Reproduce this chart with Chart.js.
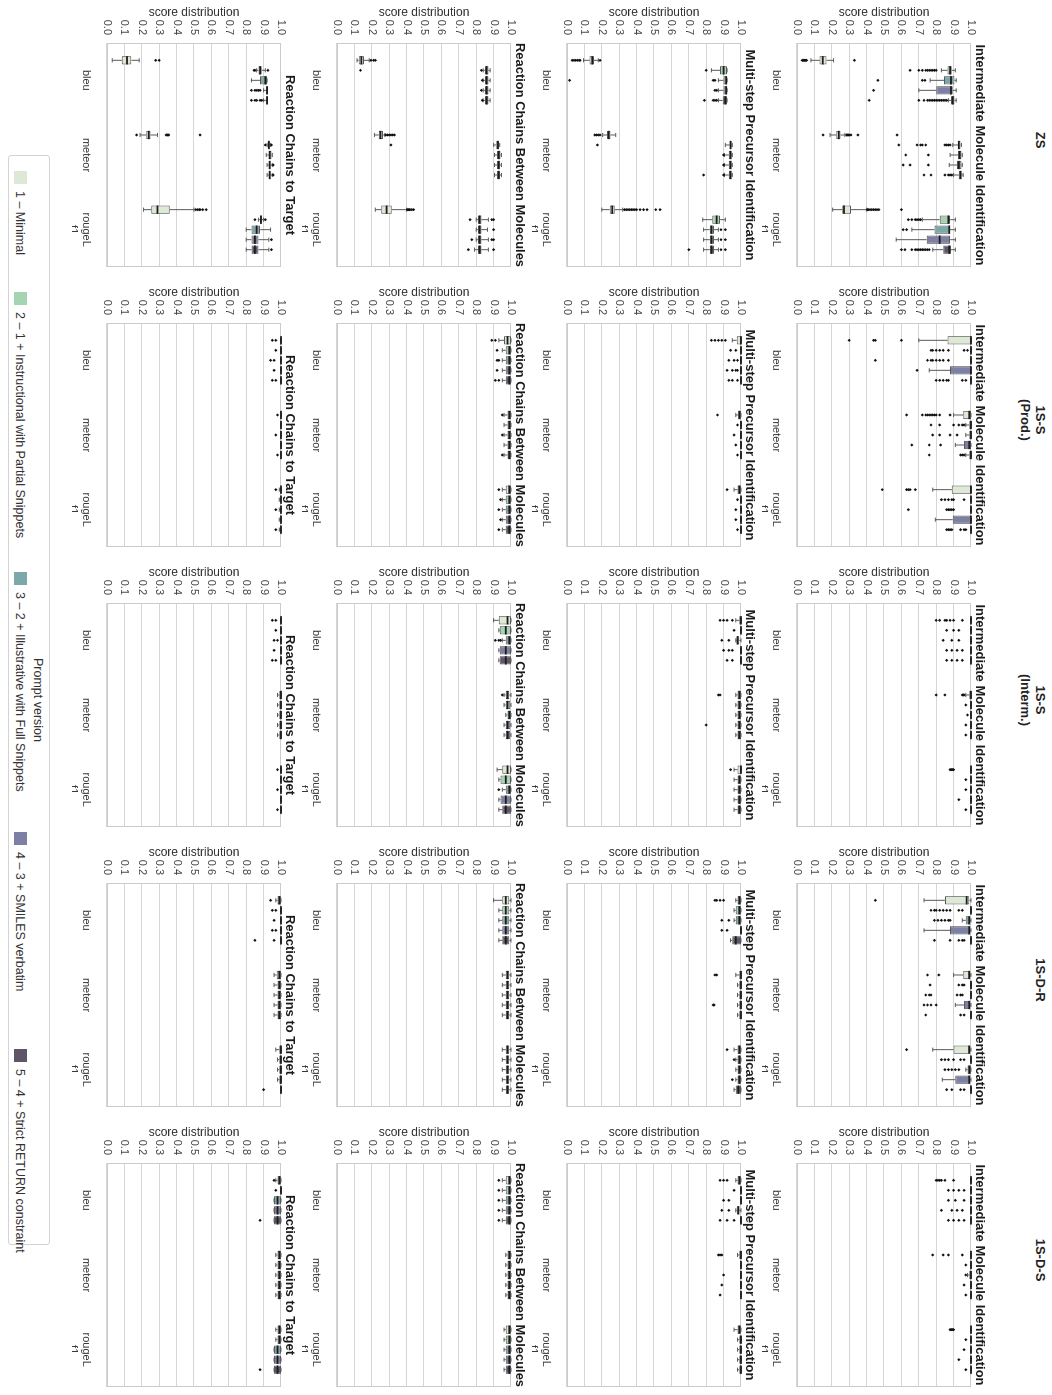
<!DOCTYPE html>
<html>
<head>
<meta charset="utf-8">
<script src="https://cdn.jsdelivr.net/npm/chart.js@4.4.1/dist/chart.umd.min.js"></script>
<style>
  html, body { margin: 0; padding: 0; background: #fff; overflow: hidden; width: 1052px; height: 1395px; }
  #fig { position: absolute; left: 0; top: 0; width: 1395px; height: 1052px;
         transform-origin: 0 0; transform: translate(1052px, 0) rotate(90deg);
         font-family: 'Liberation Sans', Arial, sans-serif; color: #222; }
  #fig canvas { position: absolute; }
  .hdr { position: absolute; top: 4px; width: 280px; text-align: center; font-weight: bold;
         font-size: 13px; line-height: 15px; color: #222; }
  #legend { position: absolute; left: 155px; top: 1002px; width: 1090px; height: 42px;
            border: 1px solid #d3d3d3; border-radius: 3px; box-sizing: border-box; }
  #legend .ttl { position: absolute; top: 4px; left: 0; width: 100%; text-align: center; font-size: 12.5px; color: #333; }
  #legend .sw { position: absolute; top: 22px; width: 13px; height: 13px; }
  #legend .lb { position: absolute; top: 22px; font-size: 12.5px; line-height: 14px; color: #333; white-space: nowrap; }
</style>
</head>
<body>
<div id="fig"></div>
<script>
const settings = [['ZS'], ['1S-S', '(Prod.)'], ['1S-S', '(Interm.)'], ['1S-D-R'], ['1S-D-S']];
const tasks = ['Intermediate Molecule Identification', 'Multi-step Precursor Identification',
               'Reaction Chains Between Molecules', 'Reaction Chains to Target'];
const metrics = ['bleu', 'meteor', ['rougeL', 'f1']];
const versions = ['1 – Minimal', '2 – 1 + Instructional with Partial Snippets',
                  '3 – 2 + Illustrative with Full Snippets', '4 – 3 + SMILES verbatim',
                  '5 – 4 + Strict RETURN constraint'];
const versionColors = ['#dde9d5', '#a4d4b1', '#7ca8aa', '#7d80a4', '#605468'];
const legendX = [170, 291, 571, 831, 1048];

// every box: [low whisker, q1, median, q3, high whisker, [outliers]]
// rows = bleu, meteor, rougeL f1 ; columns = prompt version 1..5
const zsImi = [
  [[0.08, 0.13, 0.148, 0.17, 0.21, [0.03, 0.035, 0.04, 0.045, 0.05, 0.055, 0.33]],
   [0.83, 0.865, 0.88, 0.89, 0.91, [0.65, 0.70, 0.72, 0.74, 0.75, 0.76, 0.77, 0.78, 0.79, 0.80]],
   [0.765, 0.845, 0.885, 0.905, 0.915, [0.72, 0.735, 0.465]],
   [0.70, 0.80, 0.885, 0.895, 0.915, [0.44]],
   [0.87, 0.885, 0.895, 0.905, 0.915, [0.70, 0.73, 0.75, 0.76, 0.77, 0.78, 0.79, 0.80, 0.81, 0.82, 0.83, 0.84, 0.85, 0.86, 0.415]]],
  [[0.19, 0.225, 0.24, 0.25, 0.275, [0.15, 0.285, 0.29, 0.295, 0.30, 0.31, 0.35, 0.575]],
   [0.895, 0.925, 0.93, 0.94, 0.945, [0.585, 0.69, 0.71, 0.72, 0.74, 0.85, 0.86, 0.87, 0.88]],
   [0.88, 0.925, 0.935, 0.945, 0.95, [0.625, 0.755]],
   [0.875, 0.92, 0.93, 0.945, 0.95, [0.61, 0.65, 0.755]],
   [0.90, 0.93, 0.94, 0.945, 0.955, [0.73, 0.77, 0.85, 0.87, 0.88, 0.89]]],
  [[0.205, 0.26, 0.27, 0.31, 0.40, [0.405, 0.41, 0.42, 0.43, 0.44, 0.45, 0.46, 0.47, 0.60]],
   [0.72, 0.82, 0.87, 0.88, 0.91, [0.64, 0.66, 0.68, 0.69, 0.70, 0.71]],
   [0.66, 0.79, 0.875, 0.88, 0.91, [0.61, 0.63]],
   [0.57, 0.745, 0.82, 0.88, 0.91, []],
   [0.78, 0.84, 0.875, 0.885, 0.91, [0.60, 0.62, 0.66, 0.68, 0.69, 0.70, 0.71, 0.72, 0.73, 0.74, 0.75, 0.76]]]
];
const zsMpi = [
  [[0.095, 0.13, 0.145, 0.155, 0.18, [0.03, 0.04, 0.05, 0.06, 0.07, 0.075, 0.19]],
   [0.83, 0.88, 0.90, 0.92, 0.92, [0.80]],
   [0.87, 0.90, 0.915, 0.92, 0.92, [0.84, 0.85, 0.015]],
   [0.87, 0.90, 0.915, 0.92, 0.92, [0.85, 0.86]],
   [0.87, 0.895, 0.91, 0.92, 0.92, [0.79, 0.84, 0.85, 0.86]]],
  [[0.205, 0.23, 0.24, 0.25, 0.28, [0.16, 0.17, 0.18, 0.19]],
   [0.91, 0.935, 0.94, 0.945, 0.95, [0.175]],
   [0.905, 0.93, 0.94, 0.945, 0.95, [0.90]],
   [0.905, 0.93, 0.94, 0.945, 0.95, [0.90]],
   [0.905, 0.93, 0.94, 0.945, 0.95, [0.90, 0.785]]],
  [[0.20, 0.245, 0.26, 0.275, 0.32, [0.33, 0.34, 0.35, 0.36, 0.37, 0.38, 0.39, 0.40, 0.42, 0.44, 0.46, 0.51, 0.535]],
   [0.78, 0.835, 0.86, 0.88, 0.91, []],
   [0.785, 0.82, 0.83, 0.845, 0.87, [0.885, 0.91]],
   [0.785, 0.82, 0.83, 0.845, 0.87, [0.885, 0.91]],
   [0.785, 0.82, 0.83, 0.845, 0.87, [0.70, 0.885, 0.91]]]
];
const zsRcbm = [
  [[0.115, 0.125, 0.14, 0.155, 0.185, [0.195, 0.21, 0.22]],
   [0.84, 0.85, 0.86, 0.87, 0.88, [0.135, 0.83]],
   [0.84, 0.85, 0.86, 0.87, 0.88, [0.835]],
   [0.84, 0.85, 0.86, 0.87, 0.88, [0.83]],
   [0.84, 0.85, 0.86, 0.87, 0.88, [0.835]]],
  [[0.215, 0.24, 0.25, 0.265, 0.275, [0.28, 0.29, 0.30, 0.31, 0.32, 0.33]],
   [0.90, 0.915, 0.925, 0.93, 0.935, [0.31]],
   [0.905, 0.92, 0.93, 0.94, 0.945, []],
   [0.905, 0.92, 0.93, 0.935, 0.945, []],
   [0.905, 0.92, 0.93, 0.935, 0.945, []]],
  [[0.22, 0.255, 0.285, 0.315, 0.40, [0.405, 0.41, 0.415, 0.42, 0.43, 0.44]],
   [0.80, 0.81, 0.82, 0.83, 0.87, [0.765, 0.89, 0.90]],
   [0.80, 0.81, 0.82, 0.83, 0.865, [0.90]],
   [0.80, 0.81, 0.82, 0.83, 0.87, [0.775, 0.89, 0.90]],
   [0.79, 0.81, 0.82, 0.83, 0.87, [0.755, 0.90]]]
];
const zsRct = [
  [[0.03, 0.085, 0.115, 0.14, 0.185, [0.28, 0.30]],
   [0.86, 0.87, 0.88, 0.89, 0.91, [0.845, 0.85, 0.925]],
   [0.83, 0.88, 0.91, 0.92, 0.92, []],
   [0.90, 0.915, 0.92, 0.92, 0.92, [0.83, 0.85, 0.86, 0.87, 0.88]],
   [0.90, 0.915, 0.92, 0.92, 0.92, [0.83, 0.85, 0.86, 0.88, 0.89]]],
  [[0.19, 0.225, 0.24, 0.25, 0.29, [0.17, 0.34, 0.345, 0.35, 0.355, 0.535]],
   [0.92, 0.925, 0.93, 0.935, 0.94, [0.91, 0.945]],
   [0.915, 0.93, 0.935, 0.945, 0.95, []],
   [0.92, 0.93, 0.935, 0.94, 0.95, [0.955]],
   [0.92, 0.93, 0.935, 0.94, 0.95, [0.955]]],
  [[0.21, 0.255, 0.29, 0.36, 0.50, [0.51, 0.52, 0.53, 0.535, 0.55, 0.57]],
   [0.87, 0.88, 0.885, 0.89, 0.90, [0.85, 0.91]],
   [0.80, 0.83, 0.86, 0.88, 0.94, []],
   [0.80, 0.83, 0.85, 0.87, 0.93, [0.945]],
   [0.80, 0.83, 0.85, 0.87, 0.93, [0.945]]]
];
const prodImi = [
  [[0.70, 0.865, 1, 1, 1, [0.30, 0.44, 0.45, 0.60]],
   [1, 1, 1, 1, 1, [0.77, 0.78, 0.80, 0.82, 0.84, 0.87, 0.96, 0.98]],
   [1, 1, 1, 1, 1, [0.45, 0.75, 0.77, 0.78, 0.80, 0.82, 0.84, 0.87]],
   [0.76, 0.88, 1, 1, 1, [0.69]],
   [1, 1, 1, 1, 1, [0.80, 0.82, 0.84, 0.86, 0.87, 0.95, 0.97]]],
  [[0.90, 0.955, 0.99, 1, 1, [0.63, 0.72, 0.74, 0.75, 0.76, 0.77, 0.78, 0.79, 0.80, 0.82, 0.88]],
   [0.97, 0.99, 1, 1, 1, [0.77, 0.82, 0.90, 0.93, 0.95, 0.96]],
   [0.97, 0.99, 1, 1, 1, [0.78, 0.82, 0.88, 0.92]],
   [0.91, 0.96, 0.99, 1, 1, [0.66, 0.76, 0.825]],
   [0.97, 0.99, 1, 1, 1, [0.76, 0.94, 0.95, 0.96]]],
  [[0.78, 0.89, 1, 1, 1, [0.49, 0.63, 0.64, 0.65, 0.68]],
   [1, 1, 1, 1, 1, [0.83, 0.85, 0.87, 0.89, 0.90, 0.96]],
   [1, 1, 1, 1, 1, [0.64, 0.86, 0.87, 0.88, 0.89, 0.90]],
   [0.795, 0.895, 1, 1, 1, []],
   [1, 1, 1, 1, 1, [0.86, 0.87, 0.88, 0.89, 0.94, 0.96, 0.97]]]
];
const prodMpi = [
  [[0.95, 0.975, 1, 1, 1, [0.83, 0.85, 0.87, 0.89, 0.91]],
   [1, 1, 1, 1, 1, [0.94, 0.97]],
   [1, 1, 1, 1, 1, [0.93, 0.96, 0.98]],
   [1, 1, 1, 1, 1, [0.92, 0.95, 0.97, 0.98]],
   [1, 1, 1, 1, 1, [0.93, 0.95, 0.98]]],
  [[0.97, 0.985, 0.99, 1, 1, [0.865]],
   [1, 1, 1, 1, 1, [0.98]],
   [1, 1, 1, 1, 1, [0.96]],
   [1, 1, 1, 1, 1, [0.97]],
   [1, 1, 1, 1, 1, [0.98]]],
  [[0.96, 0.98, 0.99, 1, 1, [0.92]],
   [1, 1, 1, 1, 1, [0.98]],
   [1, 1, 1, 1, 1, [0.97]],
   [1, 1, 1, 1, 1, [0.97]],
   [1, 1, 1, 1, 1, [0.98]]]
];
const prodRcbm = [
  [[0.93, 0.96, 0.98, 1, 1, [0.89, 0.91]],
   [0.95, 0.97, 0.99, 1, 1, [0.92]],
   [0.95, 0.97, 0.99, 1, 1, [0.92, 0.93]],
   [0.95, 0.97, 0.99, 1, 1, [0.92]],
   [0.95, 0.97, 0.99, 1, 1, [0.91, 0.93]]],
  [[0.96, 0.98, 0.99, 1, 1, [0.95]],
   [0.96, 0.98, 0.99, 1, 1, []],
   [0.96, 0.98, 0.99, 1, 1, [0.95]],
   [0.96, 0.98, 0.99, 1, 1, []],
   [0.96, 0.98, 0.99, 1, 1, [0.95]]],
  [[0.95, 0.97, 0.99, 1, 1, [0.93]],
   [0.95, 0.97, 0.99, 1, 1, [0.94]],
   [0.95, 0.97, 0.99, 1, 1, [0.93]],
   [0.95, 0.97, 0.99, 1, 1, [0.94]],
   [0.95, 0.97, 0.99, 1, 1, [0.93]]]
];
const prodRct = [
  [[1, 1, 1, 1, 1, [0.95, 0.97]],
   [1, 1, 1, 1, 1, [0.97]],
   [1, 1, 1, 1, 1, [0.94, 0.96]],
   [1, 1, 1, 1, 1, [0.96]],
   [1, 1, 1, 1, 1, [0.95, 0.97]]],
  [[1, 1, 1, 1, 1, [0.98]],
   [1, 1, 1, 1, 1, []],
   [1, 1, 1, 1, 1, [0.97]],
   [1, 1, 1, 1, 1, []],
   [1, 1, 1, 1, 1, [0.98]]],
  [[0.99, 1, 1, 1, 1, [0.97]],
   [0.99, 1, 1, 1, 1, []],
   [0.99, 1, 1, 1, 1, [0.97]],
   [0.99, 1, 1, 1, 1, []],
   [0.99, 1, 1, 1, 1, [0.97]]]
];
const intImi = [
  [[1, 1, 1, 1, 1, [0.80, 0.82, 0.85, 0.86, 0.88, 0.90, 0.95]],
   [1, 1, 1, 1, 1, [0.86, 0.90, 0.93]],
   [1, 1, 1, 1, 1, [0.84, 0.89, 0.93]],
   [1, 1, 1, 1, 1, [0.86, 0.89, 0.92, 0.95]],
   [1, 1, 1, 1, 1, [0.86, 0.89, 0.92, 0.95]]],
  [[0.97, 0.99, 1, 1, 1, [0.80, 0.85, 0.95, 0.955, 0.96]],
   [1, 1, 1, 1, 1, [0.97]],
   [1, 1, 1, 1, 1, [0.98]],
   [1, 1, 1, 1, 1, [0.97]],
   [1, 1, 1, 1, 1, [0.97]]],
  [[1, 1, 1, 1, 1, [0.88, 0.885, 0.89, 0.895, 0.90]],
   [1, 1, 1, 1, 1, [0.97]],
   [1, 1, 1, 1, 1, [0.97]],
   [1, 1, 1, 1, 1, [0.93]],
   [1, 1, 1, 1, 1, [0.97]]]
];
const intMpi = [
  [[0.97, 0.99, 1, 1, 1, [0.88, 0.90, 0.92, 0.95]],
   [1, 1, 1, 1, 1, [0.96]],
   [0.97, 0.975, 0.98, 0.99, 1, [0.89, 0.93]],
   [1, 1, 1, 1, 1, [0.90, 0.93, 0.95]],
   [1, 1, 1, 1, 1, [0.92, 0.95]]],
  [[0.97, 0.98, 0.99, 1, 1, [0.87, 0.88]],
   [0.97, 0.98, 0.99, 1, 1, []],
   [0.97, 0.98, 0.99, 1, 1, []],
   [0.97, 0.98, 0.99, 1, 1, [0.80]],
   [0.97, 0.98, 0.99, 1, 1, []]],
  [[0.96, 0.98, 1, 1, 1, [0.94]],
   [0.96, 0.98, 0.99, 1, 1, []],
   [0.96, 0.98, 0.99, 1, 1, []],
   [0.96, 0.98, 0.99, 1, 1, []],
   [0.96, 0.98, 0.99, 1, 1, []]]
];
const intRcbm = [
  [[0.90, 0.93, 0.98, 1, 1, []],
   [0.93, 0.935, 0.97, 1, 1, []],
   [0.95, 0.97, 0.99, 1, 1, [0.91, 0.93, 0.94]],
   [0.93, 0.935, 0.97, 1, 1, []],
   [0.93, 0.935, 0.97, 1, 1, []]],
  [[0.96, 0.97, 0.98, 0.99, 1, [0.95]],
   [0.96, 0.97, 0.98, 0.995, 1, []],
   [0.97, 0.98, 0.99, 1, 1, []],
   [0.96, 0.97, 0.98, 0.995, 1, []],
   [0.96, 0.97, 0.98, 0.995, 1, []]],
  [[0.92, 0.95, 0.98, 1, 1, []],
   [0.93, 0.94, 0.97, 1, 1, []],
   [0.95, 0.97, 0.99, 1, 1, [0.93]],
   [0.93, 0.94, 0.97, 1, 1, []],
   [0.93, 0.95, 0.97, 1, 1, []]]
];
const intRct = [
  [[1, 1, 1, 1, 1, [0.95, 0.97]],
   [1, 1, 1, 1, 1, [0.97]],
   [1, 1, 1, 1, 1, [0.96, 0.98]],
   [1, 1, 1, 1, 1, [0.96]],
   [1, 1, 1, 1, 1, [0.95, 0.97]]],
  [[0.98, 0.99, 1, 1, 1, []],
   [0.98, 0.99, 1, 1, 1, []],
   [0.98, 0.99, 1, 1, 1, []],
   [0.98, 0.99, 1, 1, 1, []],
   [0.98, 0.99, 1, 1, 1, []]],
  [[1, 1, 1, 1, 1, [0.98]],
   [1, 1, 1, 1, 1, []],
   [1, 1, 1, 1, 1, [0.98]],
   [1, 1, 1, 1, 1, []],
   [1, 1, 1, 1, 1, [0.98]]]
];
const drImi = [
  [[0.73, 0.85, 0.975, 0.99, 1, [0.45]],
   [1, 1, 1, 1, 1, [0.77, 0.79, 0.80, 0.82, 0.84, 0.86, 0.88, 0.93, 0.95]],
   [0.95, 0.97, 0.99, 0.99, 1, [0.79, 0.81, 0.83, 0.85, 0.87, 0.88]],
   [0.73, 0.88, 0.99, 0.99, 1, []],
   [1, 1, 1, 1, 1, [0.79, 0.88, 0.93, 0.95, 0.96]]],
  [[0.90, 0.955, 0.99, 0.99, 1, [0.75, 0.815]],
   [1, 1, 1, 1, 1, [0.765, 0.93, 0.95, 0.96]],
   [1, 1, 1, 1, 1, [0.74, 0.76, 0.77, 0.92, 0.94, 0.95]],
   [0.91, 0.96, 0.99, 0.99, 1, [0.73, 0.75, 0.77, 0.80]],
   [1, 1, 1, 1, 1, [0.74, 0.94, 0.96]]],
  [[0.78, 0.90, 0.99, 0.99, 1, [0.63]],
   [1, 1, 1, 1, 1, [0.83, 0.85, 0.87, 0.90, 0.94, 0.96]],
   [0.97, 0.98, 0.99, 1, 1, [0.85, 0.87, 0.89, 0.91, 0.93]],
   [0.835, 0.91, 0.99, 0.99, 1, []],
   [1, 1, 1, 1, 1, [0.86, 0.89, 0.94, 0.96]]]
];
const drMpi = [
  [[0.97, 0.98, 0.99, 1, 1, [0.85, 0.86, 0.88, 0.90]],
   [0.96, 0.97, 0.99, 1, 1, []],
   [0.96, 0.97, 0.99, 1, 1, [0.89, 0.93]],
   [1, 1, 1, 1, 1, [0.89, 0.92]],
   [0.94, 0.95, 0.97, 1, 1, []]],
  [[0.97, 0.99, 1, 1, 1, [0.85, 0.86]],
   [0.98, 0.99, 1, 1, 1, []],
   [0.98, 0.99, 1, 1, 1, []],
   [0.98, 0.99, 1, 1, 1, [0.84, 0.845]],
   [0.98, 0.99, 1, 1, 1, []]],
  [[0.96, 0.98, 0.99, 1, 1, [0.92]],
   [0.97, 0.98, 0.99, 1, 1, [0.96]],
   [0.97, 0.98, 0.99, 1, 1, []],
   [0.97, 0.98, 0.99, 1, 1, [0.95]],
   [0.96, 0.97, 0.985, 1, 1, []]]
];
const drRcbm = [
  [[0.90, 0.95, 0.97, 0.99, 1, []],
   [0.93, 0.95, 0.97, 0.99, 1, []],
   [0.93, 0.95, 0.97, 0.99, 1, []],
   [0.93, 0.95, 0.97, 0.99, 1, []],
   [0.93, 0.95, 0.97, 0.99, 1, []]],
  [[0.95, 0.97, 0.98, 0.99, 1, []],
   [0.95, 0.97, 0.98, 0.99, 1, []],
   [0.95, 0.97, 0.98, 0.99, 1, []],
   [0.95, 0.97, 0.98, 0.99, 1, []],
   [0.95, 0.97, 0.98, 0.99, 1, []]],
  [[0.95, 0.97, 0.98, 0.99, 1, []],
   [0.95, 0.97, 0.98, 0.99, 1, []],
   [0.95, 0.97, 0.98, 0.99, 1, []],
   [0.95, 0.97, 0.98, 0.99, 1, []],
   [0.95, 0.97, 0.98, 0.99, 1, []]]
];
const drRct = [
  [[0.97, 0.98, 0.99, 1, 1, [0.94]],
   [1, 1, 1, 1, 1, [0.95, 0.97]],
   [1, 1, 1, 1, 1, [0.96]],
   [1, 1, 1, 1, 1, [0.95, 0.97]],
   [1, 1, 1, 1, 1, [0.85, 0.96]]],
  [[0.96, 0.975, 0.99, 1, 1, []],
   [0.96, 0.98, 0.99, 1, 1, []],
   [0.96, 0.98, 0.99, 1, 1, []],
   [0.96, 0.98, 0.99, 1, 1, []],
   [0.96, 0.98, 0.99, 1, 1, []]],
  [[0.97, 0.99, 1, 1, 1, []],
   [0.98, 0.99, 1, 1, 1, []],
   [0.98, 0.99, 1, 1, 1, []],
   [0.98, 0.99, 1, 1, 1, []],
   [1, 1, 1, 1, 1, [0.90]]]
];
const dsImi = [
  [[1, 1, 1, 1, 1, [0.80, 0.81, 0.82, 0.83, 0.85, 0.90]],
   [1, 1, 1, 1, 1, [0.87, 0.90, 0.93, 0.96]],
   [1, 1, 1, 1, 1, [0.87, 0.91, 0.96]],
   [1, 1, 1, 1, 1, [0.83, 0.89, 0.92, 0.95]],
   [1, 1, 1, 1, 1, [0.87, 0.90, 0.93, 0.96]]],
  [[1, 1, 1, 1, 1, [0.78, 0.84, 0.87, 0.95]],
   [1, 1, 1, 1, 1, [0.97]],
   [0.98, 0.99, 1, 1, 1, [0.97]],
   [1, 1, 1, 1, 1, [0.96]],
   [1, 1, 1, 1, 1, [0.97]]],
  [[1, 1, 1, 1, 1, [0.88, 0.885, 0.89, 0.895, 0.90]],
   [1, 1, 1, 1, 1, [0.97]],
   [1, 1, 1, 1, 1, [0.96]],
   [1, 1, 1, 1, 1, [0.93]],
   [1, 1, 1, 1, 1, [0.97]]]
];
const dsMpi = [
  [[0.97, 0.98, 0.99, 1, 1, [0.88, 0.90, 0.92]],
   [1, 1, 1, 1, 1, [0.96]],
   [1, 1, 1, 1, 1, [0.90, 0.93]],
   [0.97, 0.975, 0.985, 0.99, 1, [0.89, 0.93]],
   [1, 1, 1, 1, 1, [0.88, 0.92, 0.96]]],
  [[0.98, 0.99, 1, 1, 1, [0.87, 0.88, 0.89]],
   [1, 1, 1, 1, 1, []],
   [1, 1, 1, 1, 1, [0.90]],
   [1, 1, 1, 1, 1, [0.89]],
   [1, 1, 1, 1, 1, [0.88]]],
  [[0.96, 0.98, 0.99, 1, 1, []],
   [0.98, 0.99, 1, 1, 1, []],
   [0.98, 0.99, 1, 1, 1, []],
   [0.98, 0.99, 1, 1, 1, []],
   [0.98, 0.99, 1, 1, 1, []]]
];
const dsRcbm = [
  [[0.95, 0.97, 0.99, 1, 1, [0.93]],
   [0.95, 0.97, 0.99, 1, 1, [0.93]],
   [0.95, 0.97, 0.99, 1, 1, [0.93]],
   [0.95, 0.97, 0.99, 1, 1, [0.93]],
   [0.95, 0.97, 0.99, 1, 1, [0.93]]],
  [[0.97, 0.98, 0.99, 1, 1, []],
   [0.97, 0.98, 0.99, 1, 1, []],
   [0.97, 0.98, 0.99, 1, 1, []],
   [0.97, 0.98, 0.99, 1, 1, []],
   [0.97, 0.98, 0.99, 1, 1, []]],
  [[0.96, 0.97, 0.99, 1, 1, []],
   [0.96, 0.97, 0.99, 1, 1, []],
   [0.96, 0.97, 0.99, 1, 1, []],
   [0.96, 0.97, 0.99, 1, 1, []],
   [0.96, 0.97, 0.99, 1, 1, []]]
];
const dsRct = [
  [[0.97, 0.98, 0.99, 1, 1, [0.96]],
   [1, 1, 1, 1, 1, [0.97]],
   [0.96, 0.96, 0.98, 1, 1, []],
   [0.96, 0.96, 0.98, 1, 1, []],
   [0.96, 0.96, 0.98, 1, 1, [0.88]]],
  [[0.97, 0.98, 0.99, 1, 1, []],
   [0.97, 0.98, 0.99, 1, 1, []],
   [0.97, 0.98, 0.99, 1, 1, []],
   [0.97, 0.98, 0.99, 1, 1, []],
   [0.97, 0.98, 0.99, 1, 1, []]],
  [[0.97, 0.98, 0.99, 1, 1, []],
   [0.97, 0.98, 0.99, 1, 1, []],
   [0.96, 0.96, 0.98, 1, 1, []],
   [0.96, 0.96, 0.98, 1, 1, []],
   [0.96, 0.96, 0.98, 1, 1, [0.88]]]
];

// columns = prompt setting, rows = task
const grid = [
  [zsImi, zsMpi, zsRcbm, zsRct],
  [prodImi, prodMpi, prodRcbm, prodRct],
  [intImi, intMpi, intRcbm, intRct],
  [drImi, drMpi, drRcbm, drRct],
  [dsImi, dsMpi, dsRcbm, dsRct]
];

Chart.defaults.font.family = "'Liberation Sans', Arial, sans-serif";
Chart.defaults.color = '#333';

// frame + whiskers, medians and fliers, placed with the chart's own scales
const boxPlugin = {
  id: 'boxes',
  beforeDatasetsDraw(chart) {
    const { ctx, chartArea: a } = chart;
    ctx.save();
    ctx.strokeStyle = '#cbcbcb';
    ctx.lineWidth = 1;
    ctx.strokeRect(a.left + 0.5, a.top + 0.5, a.right - a.left - 1, a.bottom - a.top - 1);
    ctx.restore();
  },
  afterDatasetsDraw(chart) {
    const ctx = chart.ctx, ys = chart.scales.y;
    const p = v => ys.getPixelForValue(v);
    ctx.save();
    chart.data.datasets.forEach((ds, i) => {
      chart.getDatasetMeta(i).data.forEach((bar, j) => {
        const s = ds.stats[j];
        const x = bar.x, hw = bar.width / 2;
        ctx.strokeStyle = '#5a5a5a';
        ctx.lineWidth = 1;
        ctx.beginPath();
        ctx.moveTo(x, p(s[0])); ctx.lineTo(x, p(s[1]));
        ctx.moveTo(x, p(s[3])); ctx.lineTo(x, p(s[4]));
        ctx.moveTo(x - hw * 0.5, p(s[0])); ctx.lineTo(x + hw * 0.5, p(s[0]));
        ctx.moveTo(x - hw * 0.5, p(s[4])); ctx.lineTo(x + hw * 0.5, p(s[4]));
        ctx.stroke();
        ctx.strokeStyle = '#1c1c1c';
        ctx.lineWidth = 1.8;
        ctx.beginPath();
        ctx.moveTo(x - hw, p(s[2])); ctx.lineTo(x + hw, p(s[2]));
        ctx.stroke();
        ctx.fillStyle = '#111';
        s[5].forEach(v => {
          const yy = p(v), r = 1.6;
          ctx.beginPath();
          ctx.moveTo(x, yy - r); ctx.lineTo(x + r, yy); ctx.lineTo(x, yy + r); ctx.lineTo(x - r, yy);
          ctx.closePath();
          ctx.fill();
        });
      });
    });
    ctx.restore();
  }
};

const fig = document.getElementById('fig');

settings.forEach((s, c) => {
  const h = document.createElement('div');
  h.className = 'hdr';
  h.style.left = (280 * c) + 'px';
  h.innerHTML = s.join('<br>');
  fig.appendChild(h);
});

grid.forEach((col, c) => {
  col.forEach((panel, r) => {
    const cv = document.createElement('canvas');
    cv.width = 275;
    cv.height = 231;
    cv.style.left = (280 * c) + 'px';
    cv.style.top = (59 + 230 * r) + 'px';
    fig.appendChild(cv);

    const datasets = versions.map((v, k) => ({
      label: v,
      data: panel.map(m => [m[k][1], m[k][3]]),
      stats: panel.map(m => m[k]),
      backgroundColor: versionColors[k],
      borderColor: '#5a5a5a',
      borderWidth: 1,
      borderSkipped: false,
      barPercentage: 0.83,
      categoryPercentage: 0.67
    }));

    new Chart(cv, {
      type: 'bar',
      data: { labels: metrics, datasets },
      plugins: [boxPlugin],
      options: {
        responsive: false,
        animation: false,
        events: [],
        layout: { padding: { top: 1.4, right: 8, left: 0, bottom: 0 } },
        plugins: {
          legend: { display: false },
          tooltip: { enabled: false },
          title: {
            display: true, text: tasks[r], fullSize: false, color: '#1a1a1a',
            font: { size: 13, weight: 'bold' },
            padding: { top: 4, bottom: 1 }
          }
        },
        scales: {
          x: {
            grid: { display: false },
            border: { display: false },
            ticks: { font: { size: 11 }, color: '#333', padding: 6, maxRotation: 0, autoSkip: false },
            afterFit: sc => { sc.height = 35; }
          },
          y: {
            min: 0, max: 1,
            grid: { color: '#d6d6d6', drawTicks: false },
            border: { color: '#d6d6d6' },
            ticks: { stepSize: 0.1, callback: v => v.toFixed(1), font: { size: 11 }, color: '#444', padding: 8 },
            title: { display: true, text: 'score distribution', font: { size: 12 }, color: '#333',
                     padding: { top: 5, bottom: 0 } },
            afterFit: sc => { sc.width = 43; }
          }
        }
      }
    });
  });
});

// legend
const lg = document.createElement('div');
lg.id = 'legend';
lg.innerHTML = '<div class="ttl">Prompt version</div>';
versions.forEach((v, k) => {
  const sw = document.createElement('div');
  sw.className = 'sw';
  sw.style.left = (legendX[k] - 155) + 'px';
  sw.style.background = versionColors[k];
  lg.appendChild(sw);
  const lb = document.createElement('div');
  lb.className = 'lb';
  lb.style.left = (legendX[k] - 155 + 20) + 'px';
  lb.textContent = v;
  lg.appendChild(lb);
});
fig.appendChild(lg);
</script>
</body>
</html>
